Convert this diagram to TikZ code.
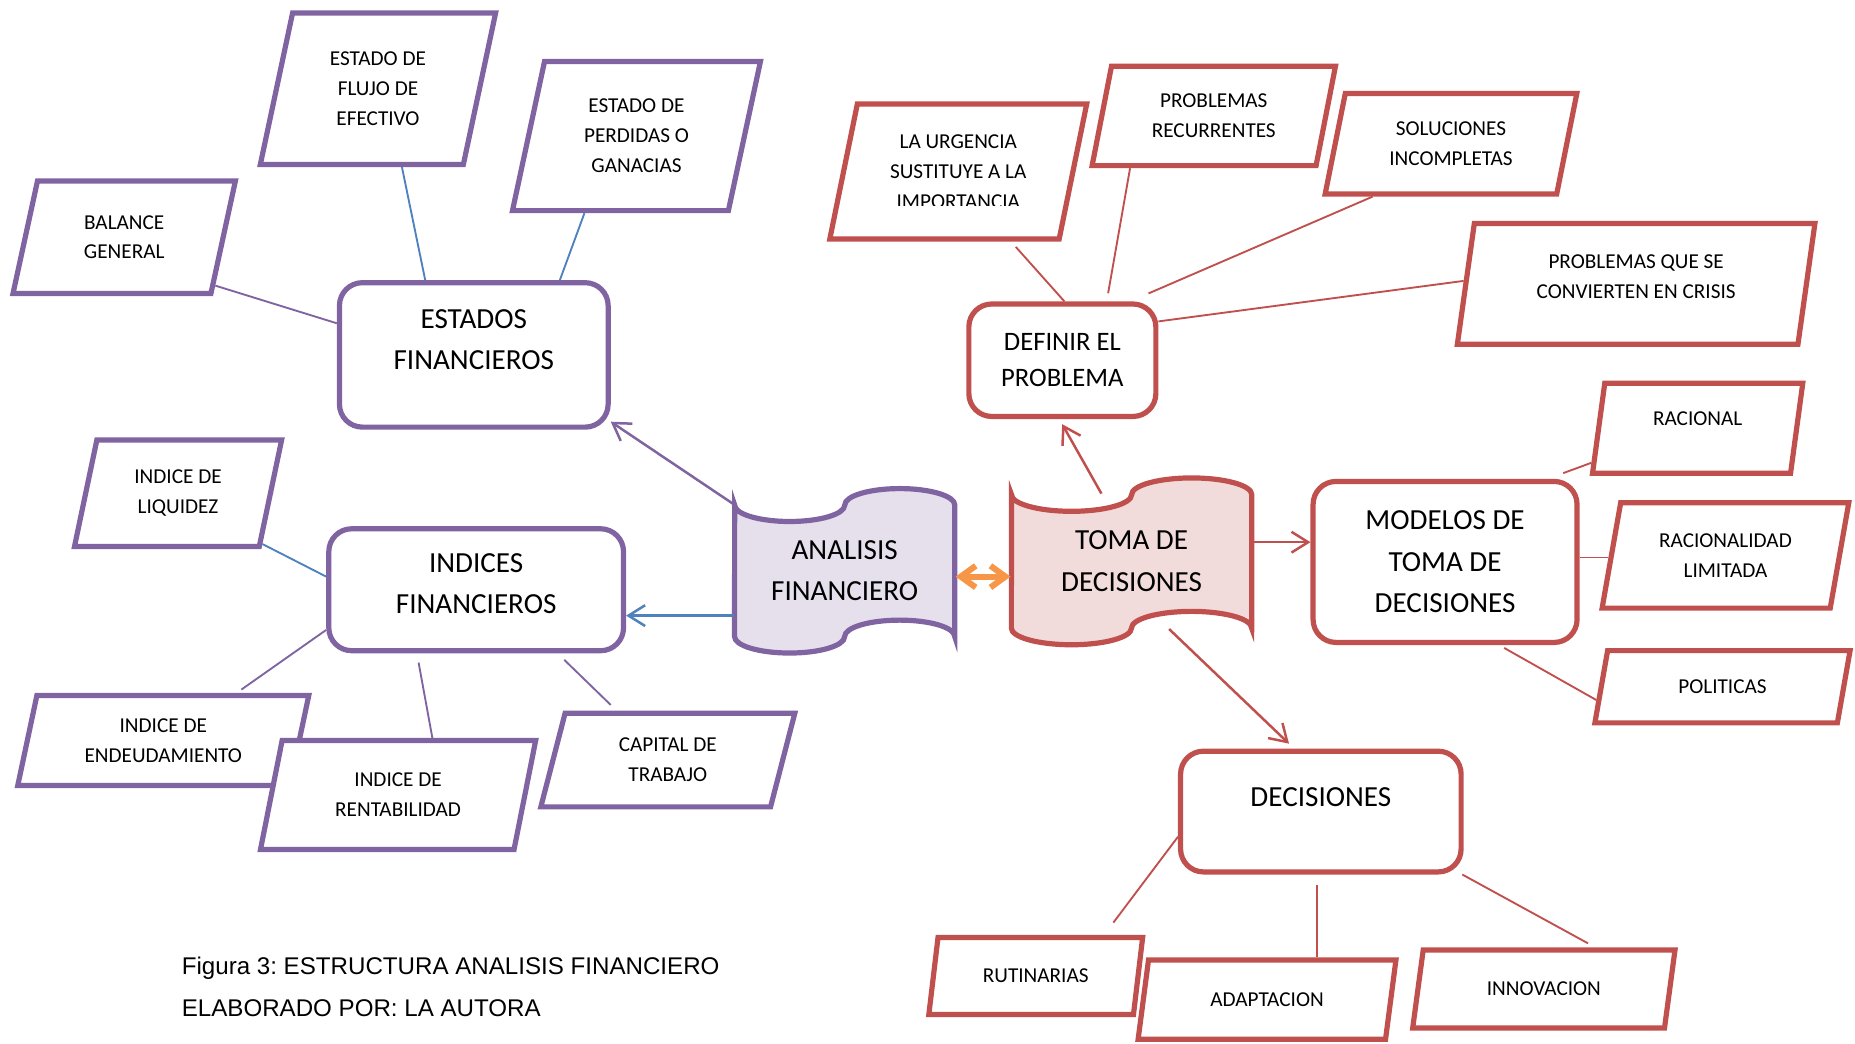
\documentclass[tikz,border=0pt]{standalone}
\usepackage{fontspec}
\setmainfont{Carlito}
\newfontfamily\figfont{Liberation Sans}
\frenchspacing
\usetikzlibrary{shapes.geometric}
\usetikzlibrary{arrows.meta}
\usetikzlibrary{calc}
\definecolor{mpurple}{HTML}{8064A2}
\definecolor{lpurple}{HTML}{E5E0EC}
\definecolor{mred}{HTML}{C0504D}
\definecolor{lred}{HTML}{F2DCDB}
\definecolor{mblue}{HTML}{4F81BD}
\definecolor{morange}{HTML}{F79646}
\tikzset{
  para/.style={trapezium, trapezium left angle=76.5, trapezium right angle=103.5,
    trapezium stretches=true, draw, line width=1.25pt, fill=white, inner sep=1pt,
    align=flush center, font=\fontsize{5.1}{7.2}\selectfont},
  rbox/.style={rectangle, rounded corners=5.5pt, draw, line width=1.25pt, fill=white,
    align=flush center, font=\fontsize{7}{10}\selectfont},
  tapetext/.style={rectangle, inner sep=0pt, align=center, font=\fontsize{7}{10}\selectfont},
  link/.style={line width=0.45pt},
  arrow/.style={line width=0.6pt, -{Straight Barb[length=4pt, width=5pt]}},
  orange arrow/.style={draw=morange, line width=1.45pt, line cap=round,
    {Straight Barb[length=3.6pt, width=5.2pt]}-{Straight Barb[length=3.6pt, width=5.2pt]}}
}
\begin{document}
\begin{tikzpicture}[x=0.01cm, y=-0.01cm]
    \useasboundingbox (0,0) rectangle (1568,882);
    % formas centrales
    \draw[line width=1.25pt, draw=mpurple, fill=lpurple] (621,426.9)
        arc[start angle=180, end angle=360, x radius=0.465cm, y radius=0.139cm]
        arc[start angle=180, end angle=0, x radius=0.465cm, y radius=0.139cm] -- (807,538.1)
        arc[start angle=0, end angle=180, x radius=0.465cm, y radius=0.139cm]
        arc[start angle=0, end angle=-180, x radius=0.465cm, y radius=0.139cm] -- cycle;
    \node[tapetext, minimum width=1.86cm, minimum height=1.11cm] (analisis) at (714,482.5) {ANALISIS\\FINANCIERO};
    \draw[line width=1.25pt, draw=mred, fill=lred] (855,418.1)
        arc[start angle=180, end angle=360, x radius=0.5075cm, y radius=0.141cm]
        arc[start angle=180, end angle=0, x radius=0.5075cm, y radius=0.141cm] -- (1058,530.9)
        arc[start angle=0, end angle=180, x radius=0.5075cm, y radius=0.141cm]
        arc[start angle=0, end angle=-180, x radius=0.5075cm, y radius=0.141cm] -- cycle;
    \node[tapetext, minimum width=2.03cm, minimum height=1.13cm] (toma) at (956.5,474.5) {TOMA DE\\DECISIONES};

    % lado morado
    \node[rbox, draw=mpurple, text width=2cm, minimum width=2.27cm, minimum height=1.22cm] (estados) at (400.5,300) {ESTADOS\\FINANCIEROS\par\kern0.26cm};
    \node[rbox, draw=mpurple, text width=2.2cm, minimum width=2.49cm, minimum height=1.03cm] (indices) at (402.5,498.5) {INDICES\\FINANCIEROS\par\kern0.1cm};
    \node[para, draw=mpurple, minimum width=1.99cm, minimum height=1.28cm] (flujo) at (319.5,75) {ESTADO DE\\FLUJO DE\\EFECTIVO};
    \node[para, draw=mpurple, minimum width=2.10cm, minimum height=1.26cm] (perdidas) at (538,115) {ESTADO DE\\PERDIDAS O\\GANACIAS};
    \node[para, draw=mpurple, minimum width=1.88cm, minimum height=0.95cm] (balance) at (105,200.5) {BALANCE\\GENERAL};
    \node[para, draw=mpurple, minimum width=1.75cm, minimum height=0.90cm] (liquidez) at (150.5,417) {INDICE DE\\LIQUIDEZ};
    \node[para, draw=mpurple, minimum width=2.46cm, minimum height=0.76cm] (endeudamiento) at (138,626) {INDICE DE\\ENDEUDAMIENTO};
    \node[para, draw=mpurple, minimum width=2.33cm, minimum height=0.92cm] (rentabilidad) at (336.5,672) {INDICE DE\\RENTABILIDAD};
    \node[para, draw=mpurple, minimum width=2.15cm, minimum height=0.79cm] (capital) at (564.5,642.5) {CAPITAL DE\\TRABAJO};

    \draw[link, mblue] (flujo.287) -- (estados.123);
    \draw[link, mblue] (perdidas.236) -- (estados.41);
    \draw[link, mpurple] (balance.332) -- (estados.167);
    \draw[link, mblue] (liquidez.329) -- (indices.175);
    \draw[link, mpurple, shorten <=0.05cm] (endeudamiento.33) -- (indices.195);
    \draw[link, mpurple, shorten >=0.08cm] (rentabilidad.59) -- (indices.227);
    \draw[link, mpurple, shorten <=0.07cm, shorten >=0.08cm] (capital.136) -- (indices.322);
    \draw[arrow, mpurple] (analisis.north west) -- (estados.334);
    \draw[arrow, mblue] (analisis.202) -- (analisis.202 -| indices.east);
    \draw[orange arrow] (analisis.-3) -- (analisis.-3 -| toma.west);

    % lado rojo
    \node[rbox, draw=mred, font=\fontsize{6.4}{8.8}\selectfont, minimum width=1.58cm, minimum height=0.95cm] (definir) at (898,304.5) {DEFINIR EL\\PROBLEMA};
    \node[rbox, draw=mred, minimum width=2.23cm, minimum height=1.36cm] (modelos) at (1221.5,475) {MODELOS DE\\TOMA DE\\DECISIONES};
    \node[rbox, draw=mred, text width=2.1cm, minimum width=2.37cm, minimum height=1.02cm] (decisiones) at (1116.5,686) {DECISIONES\par\kern0.24cm};
    \node[para, draw=mred, minimum width=2.18cm, minimum height=1.14cm] (urgencia) at (810,145) {LA URGENCIA\\SUSTITUYE A LA\\IMPORTANCIA};
    \fill[white] ($(urgencia.center)+(-65,29)$) rectangle ($(urgencia.center)+(65,40)$);
    \node[para, draw=mred, minimum width=2.06cm, minimum height=0.84cm] (recurrentes) at (1026,98) {PROBLEMAS\\RECURRENTES};
    \node[para, draw=mred, minimum width=2.13cm, minimum height=0.85cm] (soluciones) at (1226.5,121.5) {SOLUCIONES\\INCOMPLETAS};
    \node[para, draw=mred, text width=2.5cm, minimum width=3.04cm, minimum height=1.02cm] (crisis) at (1383,240) {PROBLEMAS QUE SE\\CONVIERTEN EN CRISIS\par\kern0.12cm};
    \node[para, draw=mred, text width=1.2cm, minimum width=1.78cm, minimum height=0.76cm] (racional) at (1435,362) {RACIONAL\par\kern0.16cm};
    \node[para, draw=mred, minimum width=2.09cm, minimum height=0.89cm] (racionalidad) at (1458.5,469.5) {RACIONALIDAD\\LIMITADA};
    \node[para, draw=mred, minimum width=2.16cm, minimum height=0.61cm] (politicas) at (1456,580.5) {POLITICAS};
    \node[para, draw=mred, minimum width=1.81cm, minimum height=0.65cm] (rutinarias) at (875.5,825) {RUTINARIAS};
    \node[para, draw=mred, minimum width=2.18cm, minimum height=0.67cm] (adaptacion) at (1071,845) {ADAPTACION};
    \node[para, draw=mred, minimum width=2.22cm, minimum height=0.66cm] (innovacion) at (1305,836) {INNOVACION};

    \draw[arrow, mred, shorten >=0.05cm] (toma.114) -- (definir.267);
    \draw[arrow, mred] (toma.9) -- (toma.9 -| modelos.west);
    \draw[arrow, mred, shorten >=0.06cm] (toma.299) -- (decisiones.113);
    \draw[link, mred, shorten <=0.06cm] (urgencia.307) -- (definir.88);
    \draw[link, mred, shorten >=0.07cm] (recurrentes.212) -- (definir.53);
    \draw[link, mred, shorten >=0.17cm] (soluciones.214) -- (definir.41);
    \draw[link, mred] (crisis.179) -- (definir.22);
    \draw[link, mred, shorten >=0.14cm] (racional.198) -- (modelos.39);
    \draw[link, mred] (racionalidad.181) -- (racionalidad.181 -| modelos.east);
    \draw[link, mred, shorten >=0.05cm] (politicas.186) -- (modelos.303);
    \draw[link, mred, shorten <=0.13cm] (rutinarias.31) -- (decisiones.190);
    \draw[link, mred, shorten >=0.09cm] (adaptacion.40) -- (adaptacion.40 |- decisiones.south);
    \draw[link, mred, shorten <=0.07cm] (innovacion.39) -- (decisiones.336);

    % pie de figura
    \node[anchor=west, inner sep=0pt, align=left, font=\figfont\fontsize{5.8}{10.2}\selectfont] (caption) at (153,834) {Figura 3: ESTRUCTURA ANALISIS FINANCIERO\\ELABORADO POR: LA AUTORA};
\end{tikzpicture}
\end{document}
